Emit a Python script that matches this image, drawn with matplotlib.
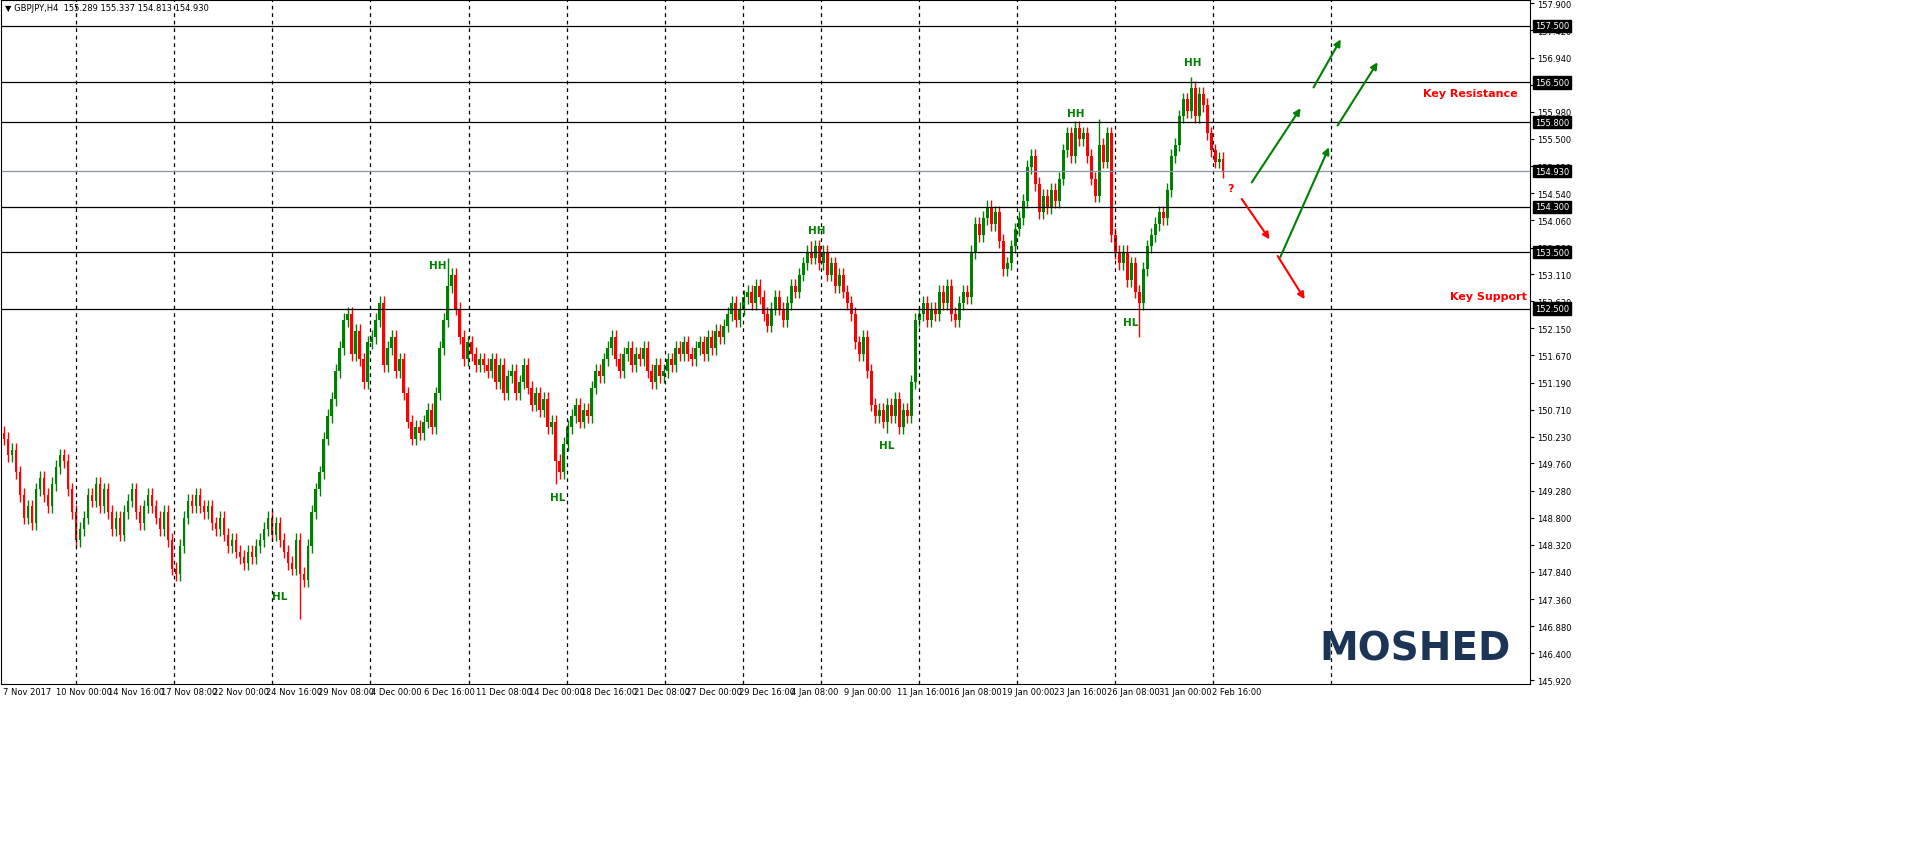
import matplotlib.pyplot as plt
import numpy as np

# GBPJPY H4 closes
closes = [
    150.2, 149.9, 150.0, 149.6, 149.2, 148.8, 149.0, 148.7, 149.3, 149.5,
    149.2, 149.0, 149.4, 149.7, 149.9, 149.8, 149.3, 148.9, 148.4, 148.6,
    148.8, 149.2, 149.1, 149.4, 149.0, 149.3, 148.9, 148.6, 148.8, 148.5,
    148.9, 149.1, 149.3, 148.9, 148.7, 149.0, 149.2, 149.0, 148.8, 148.6,
    148.9, 148.4, 147.9, 147.8, 148.3, 148.8, 149.1, 149.0, 149.2, 149.0,
    148.9, 149.0, 148.7, 148.6, 148.8, 148.5, 148.3, 148.4, 148.2, 148.1,
    148.0, 148.2, 148.1, 148.3, 148.4, 148.6, 148.8, 148.5, 148.7, 148.4,
    148.2, 148.0, 147.9, 148.4, 147.8, 147.7, 148.3, 148.9, 149.3, 149.6,
    150.2, 150.6, 150.9, 151.4, 151.8, 152.3, 152.4, 151.7, 152.1, 151.6,
    151.2, 151.9, 152.0, 152.3, 152.6, 151.5, 151.8, 152.0, 151.4, 151.6,
    151.0, 150.5, 150.2, 150.4, 150.3, 150.5, 150.7, 150.4, 151.0, 151.8,
    152.3, 152.9, 153.1, 152.5, 152.0, 151.6, 151.9, 151.7, 151.5, 151.6,
    151.5, 151.4, 151.6, 151.2, 151.5, 151.0, 151.3, 151.4, 151.0, 151.2,
    151.5, 151.1, 150.8, 151.0, 150.7, 150.9, 150.4, 150.5, 149.8, 149.6,
    150.1, 150.4, 150.6, 150.8, 150.5, 150.7, 150.6, 151.1, 151.4, 151.3,
    151.6, 151.8, 152.0, 151.6, 151.4, 151.7, 151.8, 151.5, 151.7, 151.6,
    151.8, 151.4, 151.2, 151.5, 151.3, 151.4, 151.6, 151.5, 151.8, 151.7,
    151.9, 151.7, 151.6, 151.8, 151.9, 151.7, 152.0, 151.8, 152.1, 152.0,
    152.2, 152.4, 152.6, 152.3, 152.5, 152.7, 152.8, 152.6, 152.9, 152.7,
    152.4, 152.2, 152.5, 152.7, 152.5, 152.3, 152.6, 152.9, 152.8, 153.1,
    153.3, 153.5, 153.4, 153.6, 153.3, 153.5, 153.1, 153.3, 152.9, 153.1,
    152.8, 152.6, 152.4, 151.9, 151.7, 152.0, 151.4, 150.8, 150.6, 150.7,
    150.5, 150.8, 150.6, 150.9, 150.4, 150.7, 150.6, 151.2, 152.3, 152.4,
    152.6, 152.3, 152.5, 152.4, 152.8, 152.6, 152.9, 152.4, 152.3, 152.6,
    152.8, 152.7, 153.5, 154.0, 153.8, 154.1, 154.3, 154.0, 154.2, 153.7,
    153.2, 153.3, 153.6, 153.9, 154.1, 154.4, 155.0, 155.2, 154.7, 154.2,
    154.5, 154.3, 154.6, 154.4, 154.8, 155.3, 155.6, 155.2, 155.7, 155.5,
    155.6, 155.2, 154.8, 154.5, 155.4, 155.1, 155.6, 153.8, 153.5, 153.3,
    153.5, 153.0, 153.3, 152.8, 152.6, 153.2, 153.6, 153.8, 154.0, 154.2,
    154.1, 154.6, 155.2, 155.4, 155.9, 156.2, 156.0, 156.4, 155.9, 156.3,
    156.1, 155.6, 155.3, 155.1, 155.15, 154.93,
]
first_open = 150.3
# notable wick extremes: bar index -> (high, low)
wick_extremes = {74: (None, 147.0), 111: (153.4, None), 138: (None, 149.4),
                 202: (153.7, None), 221: (None, 150.3), 274: (155.85, None),
                 284: (None, 152.0), 297: (156.6, None)}

levels = [157.5, 156.5, 155.8, 154.3, 153.5, 152.5]
current = 154.93
ytick_vals = [157.900, 157.420, 156.940, 156.460, 155.980, 155.500, 155.020, 154.540,
              154.060, 153.580, 153.110, 152.630, 152.150, 151.670, 151.190, 150.710,
              150.230, 149.760, 149.280, 148.800, 148.320, 147.840, 147.360, 146.880,
              146.400, 145.920]
date_labels = ["7 Nov 2017", "10 Nov 00:00", "14 Nov 16:00", "17 Nov 08:00", "22 Nov 00:00",
               "24 Nov 16:00", "29 Nov 08:00", "4 Dec 00:00", "6 Dec 16:00", "11 Dec 08:00",
               "14 Dec 00:00", "18 Dec 16:00", "21 Dec 08:00", "27 Dec 00:00", "29 Dec 16:00",
               "4 Jan 08:00", "9 Jan 00:00", "11 Jan 16:00", "16 Jan 08:00", "19 Jan 00:00",
               "23 Jan 16:00", "26 Jan 08:00", "31 Jan 00:00", "2 Feb 16:00"]
grid_px = [75, 173, 271, 369, 468, 566, 664, 742, 821, 919, 1017, 1115, 1213, 1331]


def P(y):
    # pixel row -> price
    return 157.5 - (y - 26) / 56.6


GREEN = '#008000'
RED = '#ff0000'

fig = plt.figure(figsize=(19.16, 8.54), dpi=100)
ax = fig.add_axes([1 / 1916, 169 / 854, 1529 / 1916, 684 / 854])
ax.set_xlim(0, 1530)
ax.set_ylim(P(685), P(0))

opens = [first_open] + closes[:-1]
for i, (o, c) in enumerate(zip(opens, closes)):
    x = 4 * i + 3
    hi = max(o, c) + 0.12
    lo = min(o, c) - 0.12
    if i in wick_extremes:
        h2, l2 = wick_extremes[i]
        hi = h2 if h2 else hi
        lo = l2 if l2 else lo
    col = GREEN if c >= o else RED
    ax.plot([x, x], [lo, hi], color=col, lw=1, solid_capstyle='butt')
    ax.bar(x, max(abs(c - o), 0.02), bottom=min(o, c), width=2.6, color=col, linewidth=0)

for g in grid_px:
    ax.axvline(g, color='black', lw=0.9, ls=(0, (3, 3)))
for lv in levels:
    ax.axhline(lv, color='black', lw=0.9)
ax.axhline(current, color='#8496a8', lw=0.9)

# right price axis
ax.yaxis.tick_right()
ax.set_yticks(ytick_vals)
ax.set_yticklabels([f"{v:.3f}" for v in ytick_vals], fontsize=6)
ax.tick_params(axis='y', length=3, pad=2)
ax.set_xticks([])
for lv in levels + [current]:
    ax.text(1535, lv, f"{lv:.3f}", fontsize=6, color='white', va='center', ha='left',
            clip_on=False, bbox=dict(boxstyle='square,pad=0.2', fc='black', ec='black'))

for k, lab in enumerate(date_labels):
    ax.text(2 + k * 52.6, P(688), lab, fontsize=6, va='top', ha='left', clip_on=False)

ax.text(4, P(8), "\u25bc GBPJPY,H4  155.289 155.337 154.813 154.930", fontsize=6,
        va='center', family=['DejaVu Sans'])

# HH / HL labels
marks = [("HL", 279, 597), ("HH", 437, 265), ("HL", 557, 498), ("HH", 816, 230),
         ("HL", 886, 446), ("HH", 1075, 113), ("HL", 1130, 322), ("HH", 1193, 62)]
for t, x, y in marks:
    ax.text(x, P(y), t, color=GREEN, fontsize=7.5, fontweight='bold', ha='center', va='center')

ax.text(1470, P(93), "Key Resistance", color=RED, fontsize=8, fontweight='bold', ha='center', va='center')
ax.text(1488, P(296), "Key Support", color=RED, fontsize=8, fontweight='bold', ha='center', va='center')
ax.text(1230, P(188), "?", color=RED, fontsize=8, fontweight='bold', ha='center', va='center')

arrows = [((1250, 185), (1302, 106), GREEN), ((1312, 90), (1342, 37), GREEN),
          ((1279, 260), (1330, 145), GREEN), ((1336, 128), (1379, 60), GREEN),
          ((1240, 197), (1271, 242), RED), ((1276, 254), (1306, 302), RED)]
for (x0, y0), (x1, y1), col in arrows:
    ax.annotate("", xy=(x1, P(y1)), xytext=(x0, P(y0)),
                arrowprops=dict(arrowstyle='-|>', color=col, lw=1.5, mutation_scale=10))

ax.text(1415, P(649), "MOSHED", color='#1c3557', fontsize=28, fontweight='bold',
        ha='center', va='center', family='DejaVu Sans')

for s in ax.spines.values():
    s.set_linewidth(0.8)

fig.savefig("out.png", dpi=100)
